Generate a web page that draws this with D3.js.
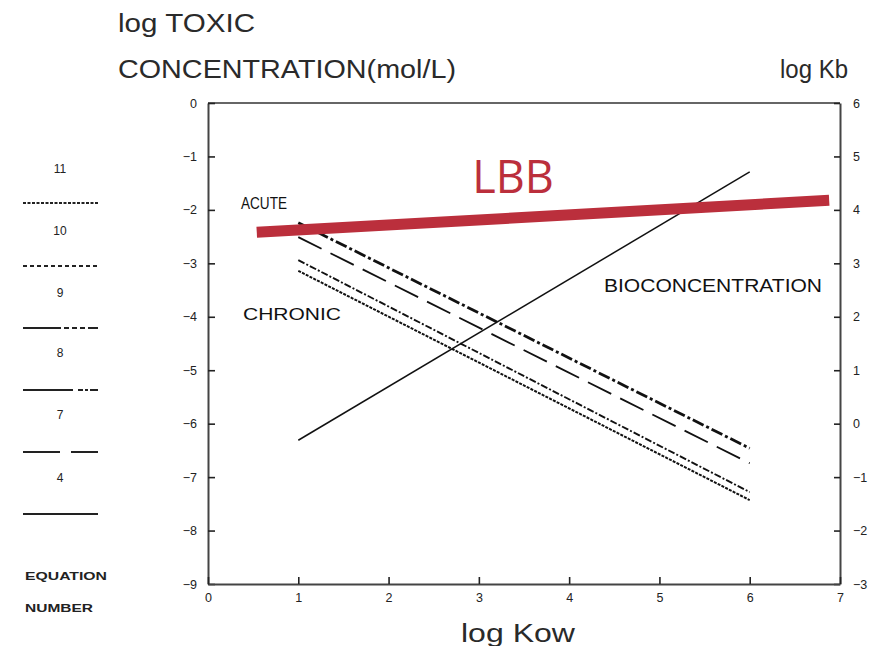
<!DOCTYPE html>
<html><head><meta charset="utf-8">
<script src="https://cdn.jsdelivr.net/npm/d3@7/dist/d3.min.js"></script>
<style>
body{margin:0;background:#fff;}
svg{display:block;font-family:"Liberation Sans",Arial,sans-serif;}
</style></head>
<body><svg id="c" width="890" height="646"></svg>
<script>
// ---- data ----
const xTicks = [0,1,2,3,4,5,6,7];
const yLeftTicks = [0,-1,-2,-3,-4,-5,-6,-7,-8,-9];
const yRightTicks = [6,5,4,3,2,1,0,-1,-2,-3];
const logKow = [1, 6];
const acuteUpper = [-2.24, -6.46];
const acuteLower = [-2.51, -6.74];
const chronicUpper = [-2.94, -7.28];
const chronicLower = [-3.14, -7.43];
const bioconcentration = [-0.31, 4.71];   // right axis (log Kb)
const lbbX = [0.54, 6.88];
const lbbY = [-2.42, -1.82];
const legendNumbers = ["11","10","9","8","7","4"];

const svg = d3.select("#c");
const x = d3.scaleLinear().domain([0,7]).range([208,840]);
const yL = d3.scaleLinear().domain([-9,0]).range([584,103]);
const yR = d3.scaleLinear().domain([-3,6]).range([584,103]);
const fmt = d => d < 0 ? "\u2212" + Math.abs(d) : String(d);

// frame top
svg.append("line").attr("x1",208).attr("x2",840).attr("y1",103).attr("y2",103)
  .attr("stroke","#666").attr("stroke-width",2);

function styleAxis(g){
  g.select(".domain").attr("stroke","#444").attr("stroke-width",2);
  g.selectAll(".tick line").attr("stroke","#222").attr("stroke-width",1.6);
  g.selectAll(".tick text").attr("fill","#222").attr("font-size",12.5);
}
svg.append("g").attr("transform","translate(208,0)")
  .call(d3.axisLeft(yL).tickValues(yLeftTicks).tickSize(-7).tickSizeOuter(0).tickPadding(11).tickFormat(fmt))
  .call(styleAxis);
svg.append("g").attr("transform","translate(840,0)")
  .call(d3.axisRight(yR).tickValues(yRightTicks).tickSize(-6).tickSizeOuter(0).tickPadding(13).tickFormat(fmt))
  .call(styleAxis);
svg.append("g").attr("transform","translate(0,584)")
  .call(d3.axisBottom(x).tickValues(xTicks).tickSize(-7).tickSizeOuter(0).tickPadding(9).tickFormat(fmt))
  .call(styleAxis);

// lines
const series = [
  {y: acuteUpper, w: 2.8, dash: "12,3,3,3", scale: yL},
  {y: acuteLower, w: 1.8, dash: "26,10", scale: yL},
  {y: chronicUpper, w: 1.9, dash: "7,2,2,2", scale: yL},
  {y: chronicLower, w: 2.0, dash: "3,1.2", scale: yL},
  {y: bioconcentration, w: 1.5, dash: null, scale: yR}
];
series.forEach(s => {
  const pts = logKow.map((k,i) => [x(k), s.scale(s.y[i])]);
  svg.append("path").attr("d", d3.line()(pts)).attr("fill","none")
    .attr("stroke","#111").attr("stroke-width", s.w)
    .attr("stroke-dasharray", s.dash);
});

// LBB line
svg.append("path").attr("d", d3.line()(lbbX.map((k,i)=>[x(k), yL(lbbY[i])])))
  .attr("stroke","#bb2f3c").attr("stroke-width",11).attr("fill","none");
svg.append("text").attr("x",513).attr("y",193).attr("text-anchor","middle")
  .attr("font-family","'Open Sans','Noto Sans',sans-serif").attr("font-size",45)
  .attr("fill","#bb2f3c").text("LBB");

// in-chart labels
const lab = (t,x0,y0,len,fs) => svg.append("text").attr("x",x0).attr("y",y0)
  .attr("font-size",fs).attr("fill","#111").attr("textLength",len)
  .attr("lengthAdjust","spacingAndGlyphs").text(t);
lab("ACUTE",241,209,46,17);
lab("CHRONIC",243,320,98,17);
lab("BIOCONCENTRATION",604,292,218,18);

// titles
const title = (t,x0,y0,len) => svg.append("text").attr("x",x0).attr("y",y0)
  .attr("font-size",25).attr("fill","#2a2a2a").attr("textLength",len)
  .attr("lengthAdjust","spacingAndGlyphs").text(t);
title("log  TOXIC",118,32,137);
title("CONCENTRATION(mol/L)",118,78,338);
title("log  Kb",780,78,68);
title("log  Kow",461,642,114);

// legend
const legendLineY = [203,266,328,390,452,514];
const legendTextY = [169,231,293,353,415,478];
const legendDash = ["3,1.5","4,3","38,3,5,3,5,3,5,3","50,5,5,2,3,2","37,11,30","none"];
legendNumbers.forEach((n,i) => {
  svg.append("text").attr("x",60).attr("y",legendTextY[i]+4).attr("text-anchor","middle")
    .attr("font-size",12).attr("fill","#222").text(n);
  svg.append("line").attr("x1",23).attr("x2",98).attr("y1",legendLineY[i]).attr("y2",legendLineY[i])
    .attr("stroke","#222").attr("stroke-width",1.8).attr("stroke-dasharray",legendDash[i]);
});
svg.append("text").attr("x",25).attr("y",580).attr("font-size",11).attr("font-weight","bold")
  .attr("fill","#222").attr("textLength",82).attr("lengthAdjust","spacingAndGlyphs").text("EQUATION");
svg.append("text").attr("x",25).attr("y",612).attr("font-size",11).attr("font-weight","bold")
  .attr("fill","#222").attr("textLength",68).attr("lengthAdjust","spacingAndGlyphs").text("NUMBER");
</script></body></html>
